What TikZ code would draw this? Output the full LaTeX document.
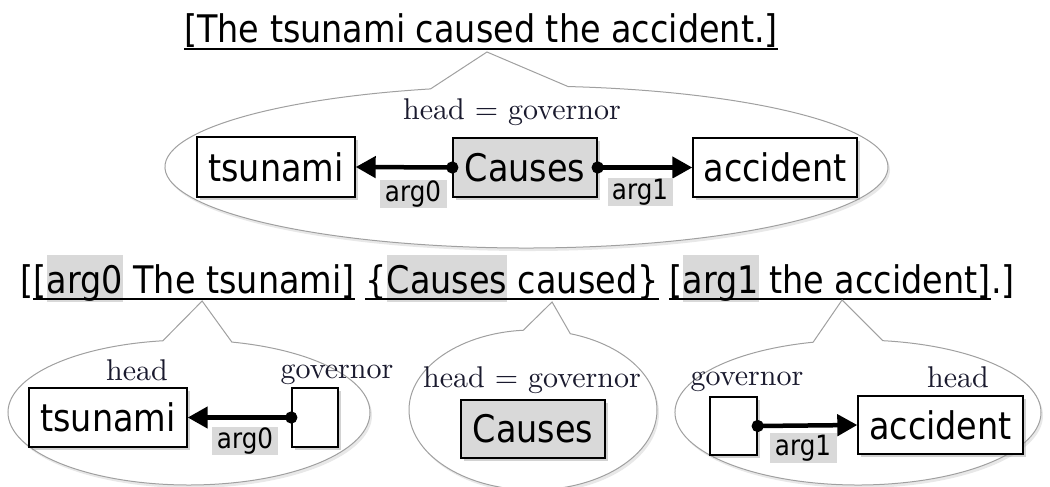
\documentclass[tikz,border=0pt]{standalone}
\usepackage{fontspec}
\newfontfamily\uifont[FakeStretch=0.88]{DejaVu Sans}
\newfontfamily\rolefont{lmroman10-regular.otf}
\usetikzlibrary{shapes.callouts,shadows,arrows.meta,calc}
\definecolor{hlgray}{HTML}{D9D9D9}
\definecolor{rimgray}{HTML}{A0A0A0}
\definecolor{serifink}{HTML}{1A1A2E}
% grey highlight behind a word, as tall as the text line
\newcommand{\hlword}[1]{{\setlength{\fboxsep}{0pt}\colorbox{hlgray}{\rule[-0.24em]{0pt}{1.24em}#1}}}
\begin{document}
\begin{tikzpicture}[x=1pt,y=-1pt,
  bigtext/.style={font=\uifont\fontsize{38}{40}\selectfont, inner sep=0pt},
  boxshadow/.style={drop shadow={shadow xshift=2.5pt, shadow yshift=-2.5pt, opacity=0.35}},
  wordbox/.style={draw, line width=1.4pt, fill=white, inner sep=0pt,
    font=\uifont\fontsize{38}{40}\selectfont, boxshadow},
  predbox/.style={wordbox, fill=hlgray},
  emptybox/.style={draw, line width=1.4pt, fill=white, inner sep=0pt, boxshadow},
  arglabel/.style={fill=hlgray, inner sep=0pt, font=\uifont\fontsize{28}{30}\selectfont},
  rolelabel/.style={font=\rolefont\fontsize{30}{32}\selectfont, inner sep=0pt, text=serifink},
  bubble/.style={ellipse callout, draw=rimgray, line width=1pt, fill=white, inner sep=0pt,
    callout pointer arc=22, drop shadow={shadow xshift=2pt, shadow yshift=-3pt, opacity=0.18}},
  link/.style={line width=4.5pt, {Circle[length=12pt]}-{Triangle[length=20pt,width=21pt]},
    shorten <=-6pt},
  uline/.style={line width=1.8pt}
]
\useasboundingbox (0,0) rectangle (1050,487);

% whole sentence
\node[bigtext, anchor=base west] (title) at (184,43) {[The tsunami caused the accident.]};
\draw[uline] ($(title.base west)+(0,6)$) -- ($(title.base east)+(0,6)$);

% bracketed sentence, one node per constituent
\node[bigtext, anchor=base west] (open) at (20,293) {[};
\node[bigtext, anchor=base west] (seg0) at (open.base east) {[\hlword{arg0} The tsunami]};
\node[bigtext, anchor=base west, xshift=10.6pt] (seg1) at (seg0.base east) {\{\hlword{Causes} caused\}};
\node[bigtext, anchor=base west, xshift=10.6pt] (seg2) at (seg1.base east) {[\hlword{arg1} the accident]};
\node[bigtext, anchor=base west] (close) at (seg2.base east) {.]};
\foreach \s in {seg0,seg1,seg2}
  \draw[uline] ($(\s.base west)+(0,6)$) -- ($(\s.base east)+(0,6)$);

% speech bubbles
\node[bubble, minimum width=723pt, minimum height=162pt,
  callout absolute pointer={($(title.base)+(6,9)$)}] (bub0) at (526.5,167) {};
\node[bubble, minimum width=362pt, minimum height=145pt,
  callout absolute pointer={($(seg0.base)+(8,8)$)}] (bub1) at (189,412.5) {};
\node[bubble, minimum width=248pt, minimum height=160pt,
  callout absolute pointer={($(seg1.base)+(40,9)$)}] (bub2) at (533,410) {};
\node[bubble, minimum width=366pt, minimum height=145pt,
  callout absolute pointer={($(seg2.base)+(12,7)$)}] (bub3) at (858,412.5) {};

% whole-sentence structure
\node[rolelabel, anchor=base] (hg0) at (512,119) {head = governor};
\node[wordbox, minimum width=158pt, minimum height=60pt] (tsu0) at (276,167) {tsunami};
\node[predbox, minimum width=144pt, minimum height=59pt] (cau0) at (525,167.5) {Causes};
\node[wordbox, minimum width=164pt, minimum height=59pt] (acc0) at (775,167.5) {accident};
\draw[link] (cau0.west) -- (tsu0.east);
\draw[link] (cau0.east) -- (acc0.west);
\node[arglabel, minimum width=67pt, minimum height=28pt] (a0top) at (413,194) {arg0};
\node[arglabel, minimum width=65pt, minimum height=28pt] (a1top) at (640,192) {arg1};

% arg0 constituent
\node[wordbox, minimum width=158pt, minimum height=59pt] (tsu1) at (108,417.5) {tsunami};
\node[emptybox, minimum width=46pt, minimum height=59pt] (gov1) at (315,417.5) {};
\draw[link] (gov1.west) -- (tsu1.east);
\node[arglabel, minimum width=66pt, minimum height=28pt] (a0bot) at (245,441) {arg0};
\node[rolelabel, anchor=base] (h1) at (137,380) {head};
\node[rolelabel, anchor=base] (g1) at (337,378) {governor};

% predicate constituent
\node[rolelabel, anchor=base] (hg2) at (532,387) {head = governor};
\node[predbox, minimum width=144pt, minimum height=58pt] (cau2) at (533,429) {Causes};

% arg1 constituent
\node[emptybox, minimum width=47pt, minimum height=58pt] (gov3) at (733.5,426) {};
\node[wordbox, minimum width=165pt, minimum height=58pt] (acc3) at (940.5,425) {accident};
\draw[link] (gov3.east) -- (acc3.west);
\node[arglabel, minimum width=67pt, minimum height=30pt] (a1bot) at (803,448) {arg1};
\node[rolelabel, anchor=base] (g3) at (747,385) {governor};
\node[rolelabel, anchor=base] (h3) at (958,387) {head};
\end{tikzpicture}
\end{document}
